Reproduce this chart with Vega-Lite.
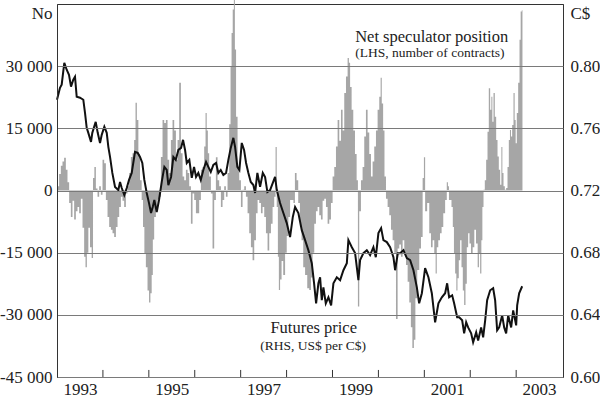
{
  "$schema": "https://vega.github.io/schema/vega-lite/v6.json",
  "width": 506,
  "height": 373,
  "autosize": {"type": "none"},
  "padding": {"left": 57, "top": 4, "right": 37, "bottom": 21},
  "background": "white",
  "config": {
    "font": "Liberation Serif",
    "view": {"stroke": "#333", "strokeWidth": 1},
    "axis": {
      "labelFont": "Liberation Serif",
      "labelFontSize": 17,
      "labelColor": "#222",
      "domainColor": "#333",
      "titleFont": "Liberation Serif",
      "titleFontSize": 17,
      "titleFontWeight": "normal",
      "titleColor": "#222"
    }
  },
  "datasets": {
    "net": [
      {"year": 1993.000, "net": 800}, {"year": 1993.028, "net": 1000}, {"year": 1993.065, "net": 4000}, {"year": 1993.102, "net": 6000},
      {"year": 1993.137, "net": 7000}, {"year": 1993.174, "net": 7900}, {"year": 1993.211, "net": 5000}, {"year": 1993.246, "net": 2000},
      {"year": 1993.283, "net": -3000}, {"year": 1993.320, "net": -6400}, {"year": 1993.355, "net": -2500}, {"year": 1993.392, "net": -7000},
      {"year": 1993.429, "net": -5000}, {"year": 1993.464, "net": -4000}, {"year": 1993.501, "net": -5500}, {"year": 1993.538, "net": -2000},
      {"year": 1993.573, "net": -9000}, {"year": 1993.610, "net": -16000}, {"year": 1993.632, "net": -18500}, {"year": 1993.669, "net": -15000},
      {"year": 1993.697, "net": -9000}, {"year": 1993.741, "net": -13700}, {"year": 1993.769, "net": -16300}, {"year": 1993.800, "net": 3000},
      {"year": 1993.828, "net": 5700}, {"year": 1993.865, "net": 500}, {"year": 1993.900, "net": -1500}, {"year": 1993.937, "net": 1000},
      {"year": 1993.974, "net": -1000}, {"year": 1994.009, "net": 7400}, {"year": 1994.046, "net": 6600}, {"year": 1994.083, "net": -2300},
      {"year": 1994.118, "net": -6400}, {"year": 1994.155, "net": -8800}, {"year": 1994.192, "net": -9500}, {"year": 1994.227, "net": -10300},
      {"year": 1994.264, "net": -11200}, {"year": 1994.301, "net": -8800}, {"year": 1994.336, "net": -6400}, {"year": 1994.373, "net": -4000},
      {"year": 1994.410, "net": -1500}, {"year": 1994.444, "net": -2500}, {"year": 1994.481, "net": -4000}, {"year": 1994.519, "net": -700},
      {"year": 1994.553, "net": 1000}, {"year": 1994.590, "net": 4200}, {"year": 1994.627, "net": 8100}, {"year": 1994.662, "net": 9000},
      {"year": 1994.699, "net": 12200}, {"year": 1994.721, "net": 21200}, {"year": 1994.758, "net": 17000}, {"year": 1994.786, "net": 8800},
      {"year": 1994.830, "net": 2500}, {"year": 1994.858, "net": -2300}, {"year": 1994.889, "net": -8800}, {"year": 1994.917, "net": -15200},
      {"year": 1994.954, "net": -18500}, {"year": 1994.989, "net": -24100}, {"year": 1995.020, "net": -27000}, {"year": 1995.048, "net": -24800},
      {"year": 1995.076, "net": -20400}, {"year": 1995.098, "net": -11800}, {"year": 1995.135, "net": -6400}, {"year": 1995.172, "net": -4000},
      {"year": 1995.207, "net": -2300}, {"year": 1995.244, "net": -1500}, {"year": 1995.281, "net": 8100}, {"year": 1995.316, "net": 17000},
      {"year": 1995.353, "net": 16300}, {"year": 1995.390, "net": 17000}, {"year": 1995.425, "net": 7400}, {"year": 1995.462, "net": 4200},
      {"year": 1995.499, "net": 12200}, {"year": 1995.534, "net": 17000}, {"year": 1995.571, "net": 14500}, {"year": 1995.608, "net": 7400},
      {"year": 1995.643, "net": 12200}, {"year": 1995.680, "net": 26000}, {"year": 1995.717, "net": 9000}, {"year": 1995.752, "net": 3400},
      {"year": 1995.789, "net": 2500}, {"year": 1995.826, "net": 5000}, {"year": 1995.861, "net": 4200}, {"year": 1995.898, "net": 1000},
      {"year": 1995.935, "net": -8000}, {"year": 1995.969, "net": -700}, {"year": 1996.007, "net": -2300}, {"year": 1996.044, "net": -5500},
      {"year": 1996.078, "net": -5500}, {"year": 1996.115, "net": -2300}, {"year": 1996.153, "net": 5000}, {"year": 1996.187, "net": 5700},
      {"year": 1996.224, "net": 10600}, {"year": 1996.246, "net": 18700}, {"year": 1996.275, "net": 14500}, {"year": 1996.296, "net": 9000},
      {"year": 1996.333, "net": 3400}, {"year": 1996.370, "net": -700}, {"year": 1996.405, "net": -14000}, {"year": 1996.442, "net": -2300},
      {"year": 1996.479, "net": 8000}, {"year": 1996.514, "net": 2500}, {"year": 1996.551, "net": 1000}, {"year": 1996.588, "net": -4000},
      {"year": 1996.623, "net": -2300}, {"year": 1996.660, "net": 1000}, {"year": 1996.697, "net": -1500}, {"year": 1996.732, "net": 4200},
      {"year": 1996.769, "net": 16000}, {"year": 1996.791, "net": 30000}, {"year": 1996.813, "net": 38000}, {"year": 1996.841, "net": 43700},
      {"year": 1996.863, "net": 46000}, {"year": 1996.885, "net": 34000}, {"year": 1996.915, "net": 17800}, {"year": 1996.950, "net": 5700},
      {"year": 1996.987, "net": 2500}, {"year": 1997.024, "net": -4000}, {"year": 1997.059, "net": 200}, {"year": 1997.096, "net": 1000},
      {"year": 1997.133, "net": -1500}, {"year": 1997.168, "net": -5500}, {"year": 1997.205, "net": -10300}, {"year": 1997.242, "net": -13700},
      {"year": 1997.277, "net": -16800}, {"year": 1997.314, "net": -12000}, {"year": 1997.351, "net": -5500}, {"year": 1997.386, "net": -2300},
      {"year": 1997.423, "net": -3000}, {"year": 1997.460, "net": -5500}, {"year": 1997.495, "net": -4000}, {"year": 1997.532, "net": -6400},
      {"year": 1997.569, "net": -10300}, {"year": 1997.603, "net": -14500}, {"year": 1997.641, "net": -10300}, {"year": 1997.678, "net": -8000},
      {"year": 1997.712, "net": -4000}, {"year": 1997.749, "net": -1500}, {"year": 1997.771, "net": 10500}, {"year": 1997.800, "net": -4000},
      {"year": 1997.821, "net": -16000}, {"year": 1997.843, "net": -24000}, {"year": 1997.874, "net": -21500}, {"year": 1997.908, "net": -17000},
      {"year": 1997.946, "net": -20400}, {"year": 1997.989, "net": -15000}, {"year": 1998.017, "net": -11000}, {"year": 1998.061, "net": -6400},
      {"year": 1998.092, "net": -2300}, {"year": 1998.135, "net": -2300}, {"year": 1998.163, "net": -3000}, {"year": 1998.200, "net": 4200},
      {"year": 1998.235, "net": 2500}, {"year": 1998.272, "net": -3000}, {"year": 1998.309, "net": -8800}, {"year": 1998.344, "net": -12000},
      {"year": 1998.381, "net": -18500}, {"year": 1998.425, "net": -20400}, {"year": 1998.475, "net": -23600}, {"year": 1998.512, "net": -24000},
      {"year": 1998.549, "net": -21000}, {"year": 1998.584, "net": -15000}, {"year": 1998.621, "net": -8000}, {"year": 1998.658, "net": -5000},
      {"year": 1998.693, "net": -4000}, {"year": 1998.730, "net": -6000}, {"year": 1998.767, "net": -7000}, {"year": 1998.802, "net": -2500},
      {"year": 1998.839, "net": -2000}, {"year": 1998.876, "net": -4000}, {"year": 1998.911, "net": -8000}, {"year": 1998.948, "net": -7000},
      {"year": 1998.985, "net": -3000}, {"year": 1999.020, "net": 3400}, {"year": 1999.057, "net": 5700}, {"year": 1999.094, "net": 10600},
      {"year": 1999.129, "net": 17000}, {"year": 1999.166, "net": 12000}, {"year": 1999.203, "net": 19500}, {"year": 1999.237, "net": 14500},
      {"year": 1999.275, "net": 23500}, {"year": 1999.312, "net": 27500}, {"year": 1999.346, "net": 32000}, {"year": 1999.368, "net": 30800},
      {"year": 1999.399, "net": 25000}, {"year": 1999.434, "net": 19500}, {"year": 1999.471, "net": 14500}, {"year": 1999.508, "net": 8800},
      {"year": 1999.543, "net": 2500}, {"year": 1999.564, "net": -28000}, {"year": 1999.601, "net": -5000}, {"year": 1999.638, "net": 2500},
      {"year": 1999.673, "net": 5700}, {"year": 1999.710, "net": 13000}, {"year": 1999.747, "net": 19500}, {"year": 1999.782, "net": 14000},
      {"year": 1999.819, "net": 8800}, {"year": 1999.856, "net": 3400}, {"year": 1999.891, "net": 7000}, {"year": 1999.928, "net": 10600},
      {"year": 1999.965, "net": 14500}, {"year": 2000.000, "net": 19500}, {"year": 2000.037, "net": 22600}, {"year": 2000.059, "net": 27200},
      {"year": 2000.087, "net": 21000}, {"year": 2000.118, "net": 14500}, {"year": 2000.146, "net": 3400}, {"year": 2000.183, "net": -2000},
      {"year": 2000.218, "net": -4000}, {"year": 2000.255, "net": -6000}, {"year": 2000.292, "net": -9500}, {"year": 2000.327, "net": -12000},
      {"year": 2000.364, "net": -15000}, {"year": 2000.401, "net": -31000}, {"year": 2000.436, "net": -14000}, {"year": 2000.473, "net": -13000},
      {"year": 2000.510, "net": -16000}, {"year": 2000.545, "net": -12000}, {"year": 2000.582, "net": -15000}, {"year": 2000.619, "net": -18000},
      {"year": 2000.654, "net": -22000}, {"year": 2000.691, "net": -27000}, {"year": 2000.723, "net": -33000}, {"year": 2000.756, "net": -38000},
      {"year": 2000.789, "net": -36000}, {"year": 2000.821, "net": -26000}, {"year": 2000.871, "net": -19200}, {"year": 2000.908, "net": -14000},
      {"year": 2000.946, "net": -11200}, {"year": 2000.980, "net": 3000}, {"year": 2001.002, "net": 8000}, {"year": 2001.033, "net": -5000},
      {"year": 2001.089, "net": -3000}, {"year": 2001.126, "net": -10300}, {"year": 2001.163, "net": -13700}, {"year": 2001.198, "net": -12000},
      {"year": 2001.235, "net": -15200}, {"year": 2001.257, "net": -20000}, {"year": 2001.285, "net": -13700}, {"year": 2001.322, "net": -12000},
      {"year": 2001.359, "net": -10300}, {"year": 2001.394, "net": -8800}, {"year": 2001.431, "net": -5500}, {"year": 2001.475, "net": -2300},
      {"year": 2001.503, "net": 2000}, {"year": 2001.525, "net": 1000}, {"year": 2001.547, "net": -2300}, {"year": 2001.577, "net": -2300},
      {"year": 2001.606, "net": -4000}, {"year": 2001.634, "net": -8800}, {"year": 2001.656, "net": -15200}, {"year": 2001.686, "net": -20000},
      {"year": 2001.708, "net": -24100}, {"year": 2001.736, "net": -21200}, {"year": 2001.765, "net": -16800}, {"year": 2001.795, "net": -12000},
      {"year": 2001.824, "net": -18500}, {"year": 2001.852, "net": -24100}, {"year": 2001.882, "net": -27600}, {"year": 2001.911, "net": -22500},
      {"year": 2001.939, "net": -13700}, {"year": 2001.969, "net": -10300}, {"year": 2001.998, "net": -12800}, {"year": 2002.035, "net": -15200},
      {"year": 2002.070, "net": -13700}, {"year": 2002.107, "net": -9500}, {"year": 2002.144, "net": -12800}, {"year": 2002.179, "net": -18500},
      {"year": 2002.200, "net": -15200}, {"year": 2002.231, "net": -20000}, {"year": 2002.253, "net": -12000}, {"year": 2002.275, "net": -4000},
      {"year": 2002.303, "net": 200}, {"year": 2002.331, "net": 2500}, {"year": 2002.362, "net": 7400}, {"year": 2002.390, "net": 14200},
      {"year": 2002.418, "net": 24700}, {"year": 2002.449, "net": 19500}, {"year": 2002.471, "net": 22600}, {"year": 2002.492, "net": 16600},
      {"year": 2002.521, "net": 23500}, {"year": 2002.549, "net": 17800}, {"year": 2002.580, "net": 12200}, {"year": 2002.608, "net": 8200},
      {"year": 2002.636, "net": 5000}, {"year": 2002.667, "net": 1400}, {"year": 2002.689, "net": 10500}, {"year": 2002.710, "net": 4200},
      {"year": 2002.739, "net": 1000}, {"year": 2002.767, "net": 200}, {"year": 2002.797, "net": 600}, {"year": 2002.826, "net": 5700},
      {"year": 2002.854, "net": 12200}, {"year": 2002.876, "net": 14600}, {"year": 2002.898, "net": 13000}, {"year": 2002.928, "net": 15800},
      {"year": 2002.956, "net": 23500}, {"year": 2002.978, "net": 17000}, {"year": 2003.000, "net": 11400}, {"year": 2003.028, "net": 18700},
      {"year": 2003.059, "net": 26000}, {"year": 2003.087, "net": 36400}, {"year": 2003.109, "net": 43200}, {"year": 2003.137, "net": 43500}
    ],
    "price": [
      {"year": 1993.000, "price": 0.7784}, {"year": 1993.065, "price": 0.7861}, {"year": 1993.102, "price": 0.7881}, {"year": 1993.159, "price": 0.8021},
      {"year": 1993.211, "price": 0.7977}, {"year": 1993.261, "price": 0.7945}, {"year": 1993.305, "price": 0.7868}, {"year": 1993.355, "price": 0.7913},
      {"year": 1993.392, "price": 0.7932}, {"year": 1993.429, "price": 0.7803}, {"year": 1993.501, "price": 0.7797}, {"year": 1993.573, "price": 0.7784},
      {"year": 1993.610, "price": 0.7700}, {"year": 1993.647, "price": 0.7603}, {"year": 1993.682, "price": 0.7571}, {"year": 1993.741, "price": 0.7513},
      {"year": 1993.769, "price": 0.7571}, {"year": 1993.843, "price": 0.7642}, {"year": 1993.887, "price": 0.7571}, {"year": 1993.937, "price": 0.7506},
      {"year": 1993.974, "price": 0.7558}, {"year": 1994.031, "price": 0.7610}, {"year": 1994.083, "price": 0.7571}, {"year": 1994.118, "price": 0.7481},
      {"year": 1994.155, "price": 0.7416}, {"year": 1994.205, "price": 0.7313}, {"year": 1994.264, "price": 0.7223}, {"year": 1994.336, "price": 0.7203},
      {"year": 1994.373, "price": 0.7255}, {"year": 1994.410, "price": 0.7216}, {"year": 1994.466, "price": 0.7171}, {"year": 1994.519, "price": 0.7216},
      {"year": 1994.569, "price": 0.7268}, {"year": 1994.627, "price": 0.7313}, {"year": 1994.699, "price": 0.7448}, {"year": 1994.758, "price": 0.7442},
      {"year": 1994.808, "price": 0.7416}, {"year": 1994.858, "price": 0.7377}, {"year": 1994.902, "price": 0.7268}, {"year": 1994.954, "price": 0.7184},
      {"year": 1995.004, "price": 0.7119}, {"year": 1995.048, "price": 0.7055}, {"year": 1995.085, "price": 0.7094}, {"year": 1995.120, "price": 0.7139},
      {"year": 1995.172, "price": 0.7061}, {"year": 1995.222, "price": 0.7139}, {"year": 1995.281, "price": 0.7255}, {"year": 1995.338, "price": 0.7352},
      {"year": 1995.390, "price": 0.7332}, {"year": 1995.425, "price": 0.7235}, {"year": 1995.484, "price": 0.7287}, {"year": 1995.534, "price": 0.7416},
      {"year": 1995.586, "price": 0.7397}, {"year": 1995.643, "price": 0.7461}, {"year": 1995.702, "price": 0.7474}, {"year": 1995.745, "price": 0.7526},
      {"year": 1995.789, "price": 0.7461}, {"year": 1995.826, "price": 0.7377}, {"year": 1995.882, "price": 0.7397}, {"year": 1995.935, "price": 0.7281},
      {"year": 1995.985, "price": 0.7352}, {"year": 1996.028, "price": 0.7287}, {"year": 1996.078, "price": 0.7313}, {"year": 1996.131, "price": 0.7268},
      {"year": 1996.187, "price": 0.7332}, {"year": 1996.246, "price": 0.7384}, {"year": 1996.296, "price": 0.7352}, {"year": 1996.349, "price": 0.7319},
      {"year": 1996.405, "price": 0.7365}, {"year": 1996.464, "price": 0.7377}, {"year": 1996.514, "price": 0.7313}, {"year": 1996.566, "price": 0.7332},
      {"year": 1996.623, "price": 0.7300}, {"year": 1996.682, "price": 0.7313}, {"year": 1996.732, "price": 0.7397}, {"year": 1996.784, "price": 0.7474},
      {"year": 1996.841, "price": 0.7539}, {"year": 1996.878, "price": 0.7481}, {"year": 1996.928, "price": 0.7352}, {"year": 1996.972, "price": 0.7332},
      {"year": 1997.024, "price": 0.7506}, {"year": 1997.074, "price": 0.7461}, {"year": 1997.118, "price": 0.7377}, {"year": 1997.168, "price": 0.7313},
      {"year": 1997.220, "price": 0.7255}, {"year": 1997.277, "price": 0.7235}, {"year": 1997.314, "price": 0.7184}, {"year": 1997.364, "price": 0.7313},
      {"year": 1997.423, "price": 0.7223}, {"year": 1997.482, "price": 0.7313}, {"year": 1997.532, "price": 0.7287}, {"year": 1997.582, "price": 0.7190},
      {"year": 1997.641, "price": 0.7203}, {"year": 1997.749, "price": 0.7287}, {"year": 1997.787, "price": 0.7203}, {"year": 1997.858, "price": 0.7119},
      {"year": 1997.930, "price": 0.7055}, {"year": 1998.004, "price": 0.6990}, {"year": 1998.076, "price": 0.6900}, {"year": 1998.135, "price": 0.7029},
      {"year": 1998.185, "price": 0.7094}, {"year": 1998.257, "price": 0.7055}, {"year": 1998.331, "price": 0.6945}, {"year": 1998.403, "price": 0.6881},
      {"year": 1998.475, "price": 0.6816}, {"year": 1998.549, "price": 0.6732}, {"year": 1998.599, "price": 0.6603}, {"year": 1998.643, "price": 0.6474},
      {"year": 1998.693, "price": 0.6603}, {"year": 1998.730, "price": 0.6642}, {"year": 1998.767, "price": 0.6494}, {"year": 1998.802, "price": 0.6577},
      {"year": 1998.854, "price": 0.6474}, {"year": 1998.911, "price": 0.6513}, {"year": 1998.970, "price": 0.6461}, {"year": 1999.020, "price": 0.6603},
      {"year": 1999.094, "price": 0.6642}, {"year": 1999.166, "price": 0.6623}, {"year": 1999.238, "price": 0.6687}, {"year": 1999.312, "price": 0.6732},
      {"year": 1999.346, "price": 0.6881}, {"year": 1999.421, "price": 0.6835}, {"year": 1999.492, "price": 0.6797}, {"year": 1999.564, "price": 0.6623},
      {"year": 1999.601, "price": 0.6752}, {"year": 1999.673, "price": 0.6797}, {"year": 1999.747, "price": 0.6816}, {"year": 1999.819, "price": 0.6784},
      {"year": 1999.891, "price": 0.6835}, {"year": 1999.943, "price": 0.6771}, {"year": 2000.000, "price": 0.6926}, {"year": 2000.059, "price": 0.6958},
      {"year": 2000.109, "price": 0.6881}, {"year": 2000.183, "price": 0.6868}, {"year": 2000.255, "price": 0.6835}, {"year": 2000.327, "price": 0.6771},
      {"year": 2000.364, "price": 0.6687}, {"year": 2000.423, "price": 0.6797}, {"year": 2000.473, "price": 0.6797}, {"year": 2000.545, "price": 0.6816},
      {"year": 2000.619, "price": 0.6765}, {"year": 2000.691, "price": 0.6752}, {"year": 2000.763, "price": 0.6687}, {"year": 2000.837, "price": 0.6577},
      {"year": 2000.887, "price": 0.6474}, {"year": 2000.946, "price": 0.6539}, {"year": 2001.017, "price": 0.6700}, {"year": 2001.089, "price": 0.6642},
      {"year": 2001.163, "price": 0.6539}, {"year": 2001.235, "price": 0.6352}, {"year": 2001.307, "price": 0.6474}, {"year": 2001.381, "price": 0.6513},
      {"year": 2001.453, "price": 0.6539}, {"year": 2001.497, "price": 0.6603}, {"year": 2001.540, "price": 0.6513}, {"year": 2001.606, "price": 0.6526},
      {"year": 2001.649, "price": 0.6474}, {"year": 2001.715, "price": 0.6384}, {"year": 2001.758, "price": 0.6384}, {"year": 2001.824, "price": 0.6365},
      {"year": 2001.867, "price": 0.6281}, {"year": 2001.911, "price": 0.6352}, {"year": 2001.954, "price": 0.6319}, {"year": 2002.020, "price": 0.6281},
      {"year": 2002.063, "price": 0.6223}, {"year": 2002.129, "price": 0.6287}, {"year": 2002.172, "price": 0.6235}, {"year": 2002.237, "price": 0.6319},
      {"year": 2002.281, "price": 0.6255}, {"year": 2002.325, "price": 0.6365}, {"year": 2002.368, "price": 0.6494}, {"year": 2002.434, "price": 0.6558},
      {"year": 2002.499, "price": 0.6571}, {"year": 2002.542, "price": 0.6494}, {"year": 2002.586, "price": 0.6300}, {"year": 2002.630, "price": 0.6319},
      {"year": 2002.695, "price": 0.6397}, {"year": 2002.739, "price": 0.6319}, {"year": 2002.782, "price": 0.6281}, {"year": 2002.826, "price": 0.6397},
      {"year": 2002.891, "price": 0.6319}, {"year": 2002.935, "price": 0.6429}, {"year": 2003.000, "price": 0.6332}, {"year": 2003.022, "price": 0.6461},
      {"year": 2003.065, "price": 0.6539}, {"year": 2003.131, "price": 0.6584}
    ],
    "notes": [
      {"year": 2001.16, "net": 37100, "label": "Net speculator position", "role": "title"},
      {"year": 2001.12, "net": 33100, "label": "(LHS, number of contracts)", "role": "sub"},
      {"year": 1998.59, "net": -33200, "label": "Futures price", "role": "title"},
      {"year": 1998.58, "net": -37600, "label": "(RHS, US$ per C$)", "role": "sub"}
    ],
    "yearticks": [
      {"year": 1994}, {"year": 1995}, {"year": 1996}, {"year": 1997}, {"year": 1998},
      {"year": 1999}, {"year": 2000}, {"year": 2001}, {"year": 2002}, {"year": 2003}
    ]
  },
  "layer": [
    {
      "layer": [
        {
          "data": {"name": "net"},
          "mark": {"type": "area", "color": "#a6a6a6", "interpolate": "step"},
          "encoding": {
            "x": {
              "field": "year", "type": "quantitative",
              "scale": {"domain": [1993, 2004.02], "nice": false, "zero": false},
              "axis": null
            },
            "y": {
              "field": "net", "type": "quantitative",
              "scale": {"domain": [-45000, 45000], "nice": false},
              "axis": {
                "orient": "left",
                "values": [-45000, -30000, -15000, 0, 15000, 30000],
                "grid": true,
                "gridColor": "#7a7a7a",
                "gridWidth": 1,
                "ticks": false,
                "zindex": 1,
                "labelPadding": 5,
                "labelExpr": "(datum.value < 0 ? '-' : '') + replace(format(abs(datum.value), ','), ',', ' ')",
                "title": "No",
                "titleAngle": 0,
                "titleAlign": "right",
                "titleBaseline": "middle",
                "titleX": -5,
                "titleY": 9
              }
            },
            "y2": {"datum": 0}
          }
        },
        {
          "data": {"name": "yearticks"},
          "mark": {"type": "rule", "color": "#333", "strokeWidth": 1},
          "encoding": {
            "x": {"field": "year", "type": "quantitative"},
            "y": {"datum": -45000},
            "y2": {"datum": -43300}
          }
        },
        {
          "data": {"name": "notes"},
          "transform": [{"filter": "datum.role === 'title'"}],
          "mark": {"type": "text", "fontSize": 16.5, "font": "Liberation Serif", "color": "#222", "align": "center", "baseline": "middle"},
          "encoding": {
            "x": {"field": "year", "type": "quantitative"},
            "y": {"field": "net", "type": "quantitative", "scale": {"domain": [-45000, 45000], "nice": false}},
            "text": {"field": "label"}
          }
        },
        {
          "data": {"name": "notes"},
          "transform": [{"filter": "datum.role === 'sub'"}],
          "mark": {"type": "text", "fontSize": 13.5, "font": "Liberation Serif", "color": "#222", "align": "center", "baseline": "middle"},
          "encoding": {
            "x": {"field": "year", "type": "quantitative"},
            "y": {"field": "net", "type": "quantitative", "scale": {"domain": [-45000, 45000], "nice": false}},
            "text": {"field": "label"}
          }
        }
      ]
    },
    {
      "data": {"name": "price"},
      "mark": {"type": "line", "color": "#111", "strokeWidth": 2},
      "encoding": {
        "x": {
          "field": "year", "type": "quantitative",
          "axis": {
            "orient": "bottom",
            "title": null,
            "grid": false,
            "domain": true,
            "ticks": false,
            "values": [1993.5, 1995.5, 1997.5, 1999.5, 2001.5, 2003.5],
            "labelExpr": "'' + floor(datum.value)",
            "labelOverlap": false,
            "labelFlush": false,
            "labelPadding": 4
          }
        },
        "y": {
          "field": "price", "type": "quantitative",
          "scale": {"domain": [0.6, 0.84], "nice": false, "zero": false},
          "axis": {
            "orient": "right",
            "values": [0.6, 0.64, 0.68, 0.72, 0.76, 0.8],
            "format": ".2f",
            "grid": false,
            "ticks": false,
            "labelPadding": 7,
            "title": "C$",
            "titleAngle": 0,
            "titleAlign": "left",
            "titleBaseline": "middle",
            "titleX": 7,
            "titleY": 9
          }
        }
      }
    }
  ],
  "resolve": {"scale": {"y": "independent"}, "axis": {"y": "independent", "x": "independent"}}
}
